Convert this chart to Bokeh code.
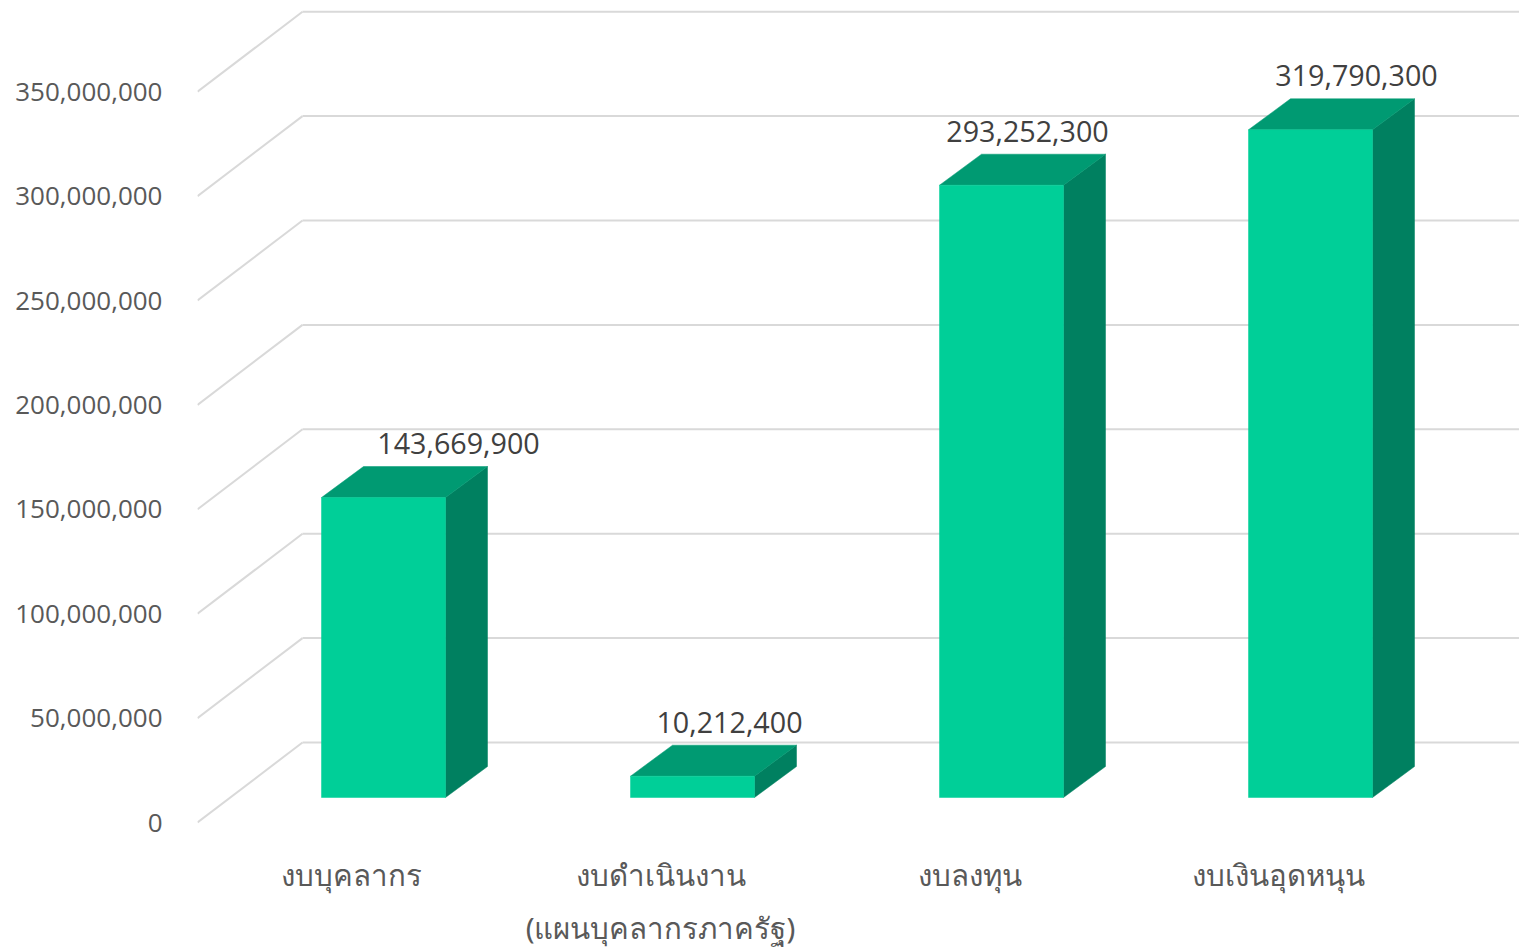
from bokeh.plotting import figure
from bokeh.models import Range1d, FixedTicker, ColumnDataSource, NumeralTickFormatter
from bokeh.core.properties import value
from bokeh.embed import file_html
from bokeh.resources import INLINE

categories = ["งบบุคลากร", "งบดำเนินงาน\n(แผนบุคลากรภาครัฐ)", "งบลงทุน", "งบเงินอุดหนุน"]
budget = [143669900, 10212400, 293252300, 319790300]
value_ticks = [0, 50000000, 100000000, 150000000, 200000000, 250000000, 300000000, 350000000]

W, H = 1519, 951
LEFT, BOTTOM = 197, 830
ZERO_Y = 822
PX_PER_VALUE = 730.8 / 350e6
SLOT = 309.0
FIRST = 351.0
LABEL_SHIFT = [75, 37, 26, 46]

def dx(px):
    return px / SLOT

def dv(px):
    return px / PX_PER_VALUE

x_range = Range1d((LEFT - FIRST) / SLOT, (W - FIRST) / SLOT)
y_range = Range1d((ZERO_Y - BOTTOM) / PX_PER_VALUE, ZERO_Y / PX_PER_VALUE)

p = figure(width=W, height=H, x_range=x_range, y_range=y_range, output_backend="svg",
           toolbar_location=None, min_border_left=LEFT, min_border_right=0, min_border_top=0,
           min_border_bottom=H - BOTTOM, outline_line_color=None, background_fill_color="white",
           border_fill_color="white", margin=(0, 0, 0, 0))
p.grid.visible = False

# projected wall: floor/side diagonals and back-wall gridlines
x0 = x_range.start
wall_dx, wall_dv = dx(105), dv(80)
p.segment(x0=[x0] * len(value_ticks), y0=value_ticks,
          x1=[x0 + wall_dx] * len(value_ticks), y1=[v + wall_dv for v in value_ticks],
          line_color="#D9D9D9", line_width=2)
p.segment(x0=[x0 + wall_dx] * len(value_ticks), y0=[v + wall_dv for v in value_ticks],
          x1=[x_range.end] * len(value_ticks), y1=[v + wall_dv for v in value_ticks],
          line_color="#D9D9D9", line_width=2)

# 3-D columns
base = dv(25)
half = dx(62)
off = dx(32)
depth_x, depth_v = dx(42), dv(31)
front_xs, front_ys, top_xs, top_ys, side_xs, side_ys = [], [], [], [], [], []
for i, v in enumerate(budget):
    l, r = i + off - half, i + off + half
    t = base + v
    front_xs.append([l, r, r, l]); front_ys.append([base, base, t, t])
    top_xs.append([l, r, r + depth_x, l + depth_x]); top_ys.append([t, t, t + depth_v, t + depth_v])
    side_xs.append([r, r + depth_x, r + depth_x, r]); side_ys.append([base, base + depth_v, t + depth_v, t])
p.patches(side_xs, side_ys, fill_color="#008060", line_color="#008060", line_width=0.5)
p.patches(top_xs, top_ys, fill_color="#009A72", line_color="#009A72", line_width=0.5)
p.patches(front_xs, front_ys, fill_color="#00CF98", line_color="#00CF98", line_width=0.5)

# data labels
src = ColumnDataSource(dict(
    x=[i + off + dx(s) for i, s in enumerate(LABEL_SHIFT)],
    y=[base + v + depth_v for v in budget],
    t=[f"{v:,}" for v in budget]))
p.text("x", "y", text="t", source=src, text_align="center", text_baseline="middle", y_offset=-23,
       text_font=value("Open Sans"), text_font_size="28.7px", text_color="#404040")

# axes
ya = p.yaxis[0]
ya.ticker = FixedTicker(ticks=value_ticks)
ya.formatter = NumeralTickFormatter(format="0,0")
ya.axis_line_color = None
ya.major_tick_line_color = None
ya.minor_tick_line_color = None
ya.major_label_standoff = 29
ya.major_label_text_font = "Open Sans"
ya.major_label_text_font_size = "26px"
ya.major_label_text_color = "#595959"

xa = p.xaxis[0]
xa.ticker = FixedTicker(ticks=list(range(len(categories))))
xa.major_label_overrides = {i: c for i, c in enumerate(categories)}
xa.axis_line_color = None
xa.major_tick_line_color = None
xa.minor_tick_line_color = None
xa.major_label_standoff = 17
xa.major_label_text_font = "Noto Sans"
xa.major_label_text_font_size = "29.5px"
xa.major_label_text_color = "#595959"
xa.major_label_text_line_height = 1.3

open("out.html", "w").write(file_html(p, INLINE))
